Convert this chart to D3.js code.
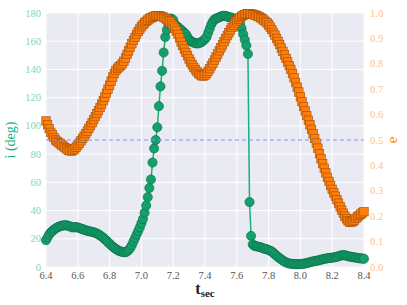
<!DOCTYPE html>
<html>
<head>
<meta charset="utf-8">
<script src="https://cdn.jsdelivr.net/npm/d3@7"></script>
<style>
  body { margin: 0; background: #fff; }
</style>
</head>
<body>
<svg id="chart" width="407" height="305"></svg>
<script>
// time samples (s), step 0.01 from 6.40 to 8.40
var tSec = d3.range(201).map(function (k) { return +(6.4 + k * 0.01).toFixed(2); });

// inclination i (deg)
var incDeg = [
  19, 21, 23, 24.5, 25.5, 26.5, 27.3, 28, 28.5, 29,
  29.3, 29.5, 29.6, 29.5, 29.2, 28.8, 28.3, 28, 28.2, 28.3,
  28, 27.6, 27.2, 26.8, 26.4, 26, 25.7, 25.4, 25.1, 24.9,
  24.6, 24.2, 23.7, 23.1, 22.4, 21.6, 20.7, 19.7, 18.7, 17.6,
  16.5, 15.4, 14.4, 13.5, 12.7, 12, 11.4, 11, 10.7, 10.5,
  10.5, 11, 12, 13.5, 15.5, 18, 20.5, 23, 25.5, 28,
  31, 34, 38.5, 43.5, 49.5, 56, 62, 74, 84, 90,
  99, 114, 128, 139, 152, 163, 168, 172, 176, 176,
  175, 172, 171, 170, 169, 168, 167, 166, 165, 163,
  161, 160, 159.5, 159, 158.5, 158.5, 158.5, 159, 159.5, 160.5,
  161.5, 163, 166, 169, 172, 174, 175.5, 176, 176.5, 177,
  177.5, 178, 178, 178, 177.5, 177, 177, 176.5, 176, 175.5,
  175, 174, 172.5, 169, 165, 161, 157, 151, 46, 22,
  16, 15, 14.8, 14.5, 14.2, 14, 13.5, 13, 12.8, 12.5,
  12, 11.5, 11, 10, 9, 8, 7, 6.2, 5.4, 4.6,
  3.8, 3.3, 2.8, 2.5, 2.3, 2.2, 2.1, 2, 2, 2,
  2.1, 2.2, 2.3, 2.5, 2.8, 3.1, 3.4, 3.7, 4, 4.2,
  4.4, 4.6, 4.9, 5.2, 5.5, 5.8, 6, 6.2, 6.4, 6.5,
  6.6, 6.8, 7, 7.3, 7.6, 8, 8.3, 8.4, 8.3, 8,
  7.6, 7.4, 7.2, 7, 6.8, 6.6, 6.4, 6.2, 6.1, 6,
  5.8
];

// eccentricity e
var ecc = [
  0.575, 0.56, 0.545, 0.53, 0.52, 0.51, 0.50, 0.495, 0.49, 0.485,
  0.48, 0.475, 0.47, 0.465, 0.46, 0.458, 0.456, 0.46, 0.465, 0.472,
  0.48, 0.488, 0.497, 0.506, 0.515, 0.525, 0.535, 0.546, 0.557, 0.568,
  0.58, 0.592, 0.604, 0.616, 0.628, 0.641, 0.655, 0.669, 0.684, 0.70,
  0.716, 0.732, 0.748, 0.762, 0.774, 0.782, 0.788, 0.793, 0.80, 0.81,
  0.823, 0.837, 0.851, 0.865, 0.879, 0.892, 0.904, 0.916, 0.927, 0.937,
  0.946, 0.954, 0.961, 0.967, 0.972, 0.977, 0.981, 0.984, 0.987, 0.988,
  0.989, 0.989, 0.988, 0.986, 0.983, 0.979, 0.975, 0.97, 0.965, 0.958,
  0.95, 0.94, 0.929, 0.916, 0.902, 0.885, 0.872, 0.858, 0.845, 0.832,
  0.819, 0.807, 0.796, 0.786, 0.777, 0.769, 0.762, 0.757, 0.753, 0.752,
  0.755, 0.762, 0.771, 0.781, 0.792, 0.803, 0.815, 0.827, 0.839, 0.851,
  0.863, 0.875, 0.887, 0.899, 0.911, 0.922, 0.933, 0.943, 0.952, 0.961,
  0.969, 0.976, 0.982, 0.987, 0.991, 0.994, 0.996, 0.997, 0.997, 0.996,
  0.995, 0.993, 0.991, 0.988, 0.985, 0.981, 0.977, 0.972, 0.967, 0.961,
  0.953, 0.945, 0.935, 0.924, 0.913, 0.90, 0.888, 0.876, 0.862, 0.849,
  0.835, 0.821, 0.807, 0.793, 0.778, 0.762, 0.745, 0.727, 0.708, 0.689,
  0.67, 0.651, 0.632, 0.614, 0.596, 0.578, 0.56, 0.542, 0.524, 0.506,
  0.488, 0.468, 0.446, 0.426, 0.407, 0.389, 0.371, 0.353, 0.337, 0.321,
  0.306, 0.292, 0.279, 0.265, 0.251, 0.237, 0.224, 0.212, 0.20, 0.19,
  0.182, 0.177, 0.176, 0.179, 0.185, 0.192, 0.198, 0.203, 0.208, 0.213,
  0.218
];

var xTicks = [6.4, 6.6, 6.8, 7.0, 7.2, 7.4, 7.6, 7.8, 8.0, 8.2, 8.4];
var incTicks = [0, 20, 40, 60, 80, 100, 120, 140, 160, 180];
var eccTicks = [0.0, 0.1, 0.2, 0.3, 0.4, 0.5, 0.6, 0.7, 0.8, 0.9, 1.0];
var eRef = 0.5;

var serif = "'Liberation Serif', 'DejaVu Serif', serif";

var svg = d3.select("#chart");
var padL = 46, padR = 364, padT = 13, padB = 267;

var x = d3.scaleLinear().domain([6.4, 8.4]).range([padL, padR]);
var yI = d3.scaleLinear().domain([0, 180]).range([padB, padT]);
var yE = d3.scaleLinear().domain([0, 1]).range([padB, padT]);

var greenFill = "#13a06b", greenEdge = "#0b6a46", greenLine = "#19b07c";
var orangeFill = "#ff7f0e", orangeEdge = "#a34d00";

// background
svg.append("rect")
  .attr("x", padL).attr("y", padT)
  .attr("width", padR - padL).attr("height", padB - padT)
  .attr("fill", "#eaeaf2");

// grid
var grid = svg.append("g").attr("stroke", "#fff").attr("stroke-width", 1);
grid.selectAll(".gx").data(xTicks).enter().append("line")
  .attr("x1", d => x(d)).attr("x2", d => x(d))
  .attr("y1", padT).attr("y2", padB);
grid.selectAll(".gy").data(incTicks).enter().append("line")
  .attr("x1", padL).attr("x2", padR)
  .attr("y1", d => yI(d)).attr("y2", d => yI(d));

var plot = svg.append("g");

// inclination: line + circles
var incLine = d3.line().x((d, k) => x(tSec[k])).y(d => yI(d));
plot.append("path")
  .datum(incDeg)
  .attr("d", incLine)
  .attr("fill", "none")
  .attr("stroke", greenLine)
  .attr("stroke-width", 1.5);

plot.selectAll(".inc").data(incDeg).enter().append("circle")
  .attr("cx", (d, k) => x(tSec[k]))
  .attr("cy", d => yI(d))
  .attr("r", 4.6)
  .attr("fill", greenFill)
  .attr("stroke", greenEdge)
  .attr("stroke-width", 0.6);

// eccentricity: squares
var sq = 8.5;
plot.selectAll(".ecc").data(ecc).enter().append("rect")
  .attr("x", (d, k) => x(tSec[k]) - sq / 2)
  .attr("y", d => yE(d) - sq / 2)
  .attr("width", sq).attr("height", sq)
  .attr("fill", orangeFill)
  .attr("stroke", orangeEdge)
  .attr("stroke-width", 0.6);

// reference line e = 0.5
svg.append("line")
  .attr("x1", padL).attr("x2", padR)
  .attr("y1", yE(eRef)).attr("y2", yE(eRef))
  .attr("stroke", "#8c8cff")
  .attr("stroke-width", 1.1)
  .attr("stroke-dasharray", "4,3");

// tick labels
svg.append("g").selectAll("text").data(xTicks).enter().append("text")
  .attr("x", d => x(d)).attr("y", padB + 12)
  .attr("text-anchor", "middle")
  .attr("font-family", serif)
  .attr("font-size", 10.5)
  .attr("fill", "#555")
  .text(d => d.toFixed(1));

svg.append("g").selectAll("text").data(incTicks).enter().append("text")
  .attr("x", padL - 5).attr("y", d => yI(d) + 3.5)
  .attr("text-anchor", "end")
  .attr("font-family", serif)
  .attr("font-size", 10.5)
  .attr("fill", "#7fd6b2")
  .text(d => d);

svg.append("g").selectAll("text").data(eccTicks).enter().append("text")
  .attr("x", padR + 6).attr("y", d => yE(d) + 3.5)
  .attr("text-anchor", "start")
  .attr("font-family", serif)
  .attr("font-size", 10.5)
  .attr("fill", "#ffbf85")
  .text(d => d.toFixed(1));

// axis labels
svg.append("text")
  .attr("transform", "translate(15," + ((padT + padB) / 2) + ") rotate(-90)")
  .attr("text-anchor", "middle")
  .attr("font-family", serif)
  .attr("font-size", 14)
  .attr("fill", "#19b07c")
  .text("i (deg)");

svg.append("text")
  .attr("transform", "translate(397," + ((padT + padB) / 2) + ") rotate(-90)")
  .attr("text-anchor", "middle")
  .attr("font-family", serif)
  .attr("font-size", 15)
  .attr("fill", "#ff8c1a")
  .text("e");

var xl = svg.append("text")
  .attr("x", (padL + padR) / 2).attr("y", 294)
  .attr("text-anchor", "middle")
  .attr("font-family", serif)
  .attr("font-weight", "bold")
  .attr("fill", "#222");
xl.append("tspan").attr("font-size", 16).text("t");
xl.append("tspan").attr("font-size", 11).attr("dy", 3).text("sec");
</script>
</body>
</html>
